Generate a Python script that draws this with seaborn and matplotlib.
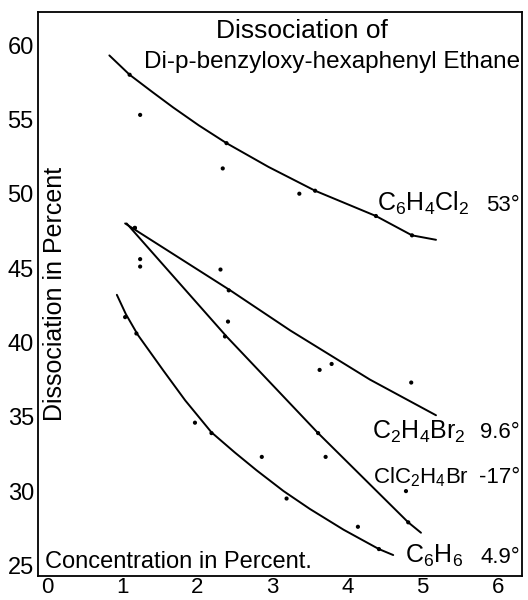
import matplotlib
matplotlib.use("Agg")
import matplotlib.pyplot as plt
import seaborn as sns
import pandas as pd

# ---- data ----
x_ticks = [0, 1, 2, 3, 4, 5, 6]
y_ticks = [25, 30, 35, 40, 45, 50, 55, 60]

# C6H4Cl2 (53 deg)
cl2_pts_x = [1.10, 1.24, 2.39, 2.34, 3.36, 3.57, 4.38, 4.86]
cl2_pts_y = [58.0, 55.3, 53.4, 51.7, 50.0, 50.2, 48.5, 47.2]
cl2_curve_x = [0.83, 1.10, 1.40, 1.68, 2.02, 2.39, 2.95, 3.57, 4.38, 4.86, 5.18]
cl2_curve_y = [59.3, 58.0, 56.85, 55.8, 54.6, 53.4, 51.8, 50.2, 48.5, 47.2, 46.9]

# C2H4Br2 (9.6 deg)
br2_pts_x = [1.17, 1.24, 2.31, 2.42, 3.63, 3.79, 4.85]
br2_pts_y = [47.7, 45.6, 44.9, 43.5, 38.15, 38.55, 37.3]
br2_curve_x = [1.04, 2.44, 3.24, 4.30, 5.18]
br2_curve_y = [48.0, 43.5, 40.8, 37.5, 35.1]

# ClC2H4Br (-17 deg)
clbr_pts_x = [1.17, 1.24, 2.41, 2.37, 3.61, 3.71, 4.78, 4.81]
clbr_pts_y = [47.7, 45.1, 41.4, 40.4, 33.9, 32.3, 30.0, 27.9]
clbr_curve_x = [1.06, 2.39, 3.61, 4.81, 4.98]
clbr_curve_y = [48.0, 40.4, 33.9, 27.9, 27.2]

# C6H6 (4.9 deg)
bz_pts_x = [1.04, 1.19, 1.97, 2.19, 2.86, 3.19, 4.14, 4.42]
bz_pts_y = [41.7, 40.6, 34.6, 33.9, 32.3, 29.5, 27.6, 26.1]
bz_curve_x = [0.93, 1.05, 1.21, 1.55, 1.84, 2.19, 2.50, 2.79, 3.15, 3.50, 3.95, 4.42, 4.61]
bz_curve_y = [43.2, 41.9, 40.5, 38.1, 36.1, 33.95, 32.6, 31.4, 30.0, 28.8, 27.4, 26.1, 25.7]

solvents = [r"C$_6$H$_4$Cl$_2$", r"C$_2$H$_4$Br$_2$", r"ClC$_2$H$_4$Br", r"C$_6$H$_6$"]
temps = ["53°", "9.6°", "-17°", "4.9°"]
label_x = [4.39, 4.33, 4.34, 4.77]
label_y = [48.84, 33.54, 30.52, 25.16]
label_size = [18, 18, 16, 18]

title1 = "Dissociation of"
title2 = "Di-p-benzyloxy-hexaphenyl Ethane"
ylabel = "Dissociation in Percent"
xlabel = "Concentration in Percent."

# ---- style ----
sns.set_theme(style="white")
plt.rcParams["font.family"] = ["Liberation Sans", "DejaVu Sans"]
plt.rcParams["mathtext.default"] = "regular"

fig = plt.figure(figsize=(5.28, 6.0), dpi=100)
ax = fig.add_axes([0.072, 0.040, 0.9166, 0.940])

curves = [(cl2_curve_x, cl2_curve_y), (br2_curve_x, br2_curve_y),
          (clbr_curve_x, clbr_curve_y), (bz_curve_x, bz_curve_y)]
points = [(cl2_pts_x, cl2_pts_y), (br2_pts_x, br2_pts_y),
          (clbr_pts_x, clbr_pts_y), (bz_pts_x, bz_pts_y)]

for cx, cy in curves:
    df = pd.DataFrame({"x": cx, "y": cy})
    sns.lineplot(data=df, x="x", y="y", sort=False, estimator=None,
                 color="black", linewidth=1.4, ax=ax)
for px, py in points:
    df = pd.DataFrame({"x": px, "y": py})
    sns.scatterplot(data=df, x="x", y="y", color="black", s=9,
                    edgecolor="none", ax=ax)

ax.set_xlim(-0.12, 6.325)
ax.set_ylim(24.29, 62.22)
ax.set_xticks(x_ticks)
ax.set_xticklabels([str(v) for v in x_ticks])
ax.set_yticks(y_ticks)
ax.set_yticklabels([str(v) for v in y_ticks])
ax.tick_params(axis="both", length=0, colors="black")
ax.tick_params(axis="y", pad=3, labelsize=17)
ax.tick_params(axis="x", pad=1, labelsize=16)
ax.set_xlabel("")
ax.set_ylabel("")
for s in ax.spines.values():
    s.set_color("black")
    s.set_linewidth(1.3)

for name, t, lx, ly, fs in zip(solvents, temps, label_x, label_y, label_size):
    ax.text(lx, ly, name, fontsize=fs, ha="left", va="baseline", color="black")
    ax.text(0.996, ly, t, fontsize=16, ha="right", va="baseline", color="black",
            transform=ax.get_yaxis_transform())

ax.text(0.545, 0.966, title1, transform=ax.transAxes, fontsize=19,
        ha="center", va="center", color="black")
ax.text(0.996, 0.912, title2, transform=ax.transAxes, fontsize=17.5,
        ha="right", va="center", color="black")
ax.text(0.036, 0.50, ylabel, transform=ax.transAxes, fontsize=18,
        rotation=90, ha="center", va="center", color="black")
ax.text(0.014, 0.024, xlabel, transform=ax.transAxes, fontsize=17,
        ha="left", va="center", color="black")

fig.savefig("out.png", dpi=100)
